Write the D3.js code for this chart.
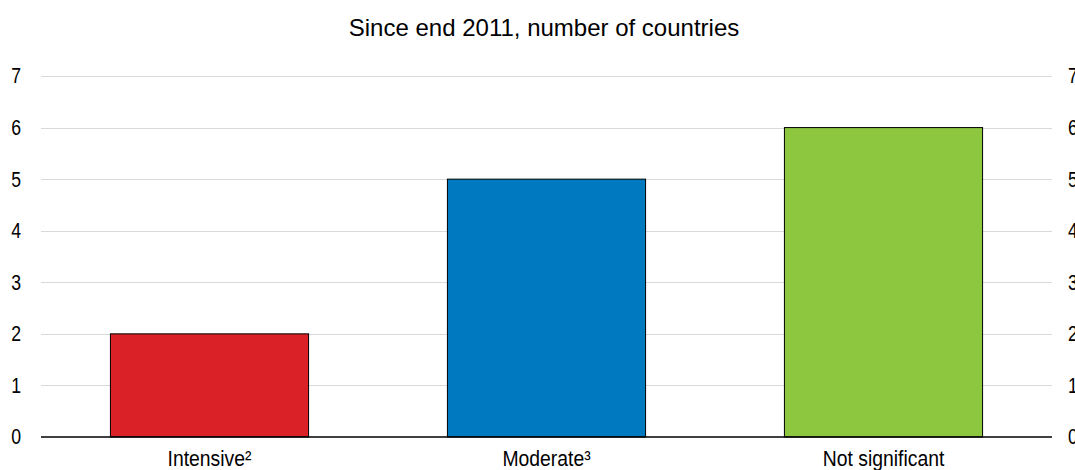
<!DOCTYPE html>
<html>
<head>
<meta charset="utf-8">
<script src="https://cdn.jsdelivr.net/npm/d3@7"></script>
<style>
  html, body { margin: 0; padding: 0; background: #fff; }
  svg { display: block; }
</style>
</head>
<body>
<svg id="chart" width="1075" height="470"></svg>
<script>
// Countries by intensity, since end 2011
const categories = ["Intensive²", "Moderate³", "Not significant"];
const counts = [2, 5, 6];
const barColors = ["#da2128", "#0079c1", "#8dc63f"];
const yTicks = [0, 1, 2, 3, 4, 5, 6, 7];
const title = "Since end 2011, number of countries";

const W = 1075, H = 470;
const margin = { top: 76, right: 23, bottom: 33, left: 41 };
const svg = d3.select("#chart");

const x = d3.scaleBand()
  .domain(categories)
  .range([margin.left, W - margin.right])
  .paddingInner(0.412)
  .paddingOuter(0.206);

const y = d3.scaleLinear()
  .domain([0, 7])
  .range([H - margin.bottom, margin.top]);

const baseFont = "'Liberation Sans', Arial, sans-serif";

// squeeze a label horizontally to imitate a condensed face
function condense(sel, factor) {
  sel.each(function () {
    const w = this.getComputedTextLength();
    d3.select(this)
      .attr("textLength", w * factor)
      .attr("lengthAdjust", "spacingAndGlyphs");
  });
}

// gridlines
svg.append("g")
  .selectAll("line")
  .data(yTicks.filter(d => d > 0))
  .join("line")
  .attr("x1", margin.left)
  .attr("x2", W - margin.right)
  .attr("y1", d => Math.round(y(d)) + 0.5)
  .attr("y2", d => Math.round(y(d)) + 0.5)
  .attr("stroke", "#d9d9d9")
  .attr("stroke-width", 1.2);

// bars
svg.append("g")
  .selectAll("rect")
  .data(categories)
  .join("rect")
  .attr("x", d => x(d))
  .attr("width", x.bandwidth())
  .attr("y", (d, i) => y(counts[i]))
  .attr("height", (d, i) => y(0) - y(counts[i]))
  .attr("fill", (d, i) => barColors[i])
  .attr("stroke", "#000")
  .attr("stroke-width", 1);

// baseline
svg.append("line")
  .attr("x1", margin.left)
  .attr("x2", W - margin.right)
  .attr("y1", y(0))
  .attr("y2", y(0))
  .attr("stroke", "#000")
  .attr("stroke-width", 1.5);

// left axis labels
const leftAxis = d3.axisLeft(y).tickValues(yTicks).tickSize(0).tickPadding(0).tickFormat(d3.format("d"));
const gl = svg.append("g")
  .attr("transform", `translate(${margin.left - 20},0)`)
  .call(leftAxis);
gl.select(".domain").remove();
gl.selectAll("text")
  .attr("font-family", baseFont)
  .attr("font-size", 21.5)
  .attr("fill", "#000")
  .call(condense, 0.82);

// right axis labels
const rightAxis = d3.axisRight(y).tickValues(yTicks).tickSize(0).tickPadding(0).tickFormat(d3.format("d"));
const gr = svg.append("g")
  .attr("transform", `translate(${W - margin.right + 16},0)`)
  .call(rightAxis);
gr.select(".domain").remove();
gr.selectAll("text")
  .attr("font-family", baseFont)
  .attr("font-size", 21.5)
  .attr("fill", "#000")
  .call(condense, 0.82);

// category labels
const xAxis = d3.axisBottom(x).tickSize(0).tickPadding(13.5);
const gx = svg.append("g")
  .attr("transform", `translate(0,${y(0)})`)
  .call(xAxis);
gx.select(".domain").remove();
gx.selectAll("text")
  .attr("font-family", baseFont)
  .attr("font-size", 22)
  .attr("fill", "#000")
  .call(condense, 0.88);

// title
svg.append("text")
  .attr("x", 544)
  .attr("y", 36)
  .attr("text-anchor", "middle")
  .attr("font-family", baseFont)
  .attr("font-size", 24)
  .attr("fill", "#000")
  .text(title);
</script>
</body>
</html>
